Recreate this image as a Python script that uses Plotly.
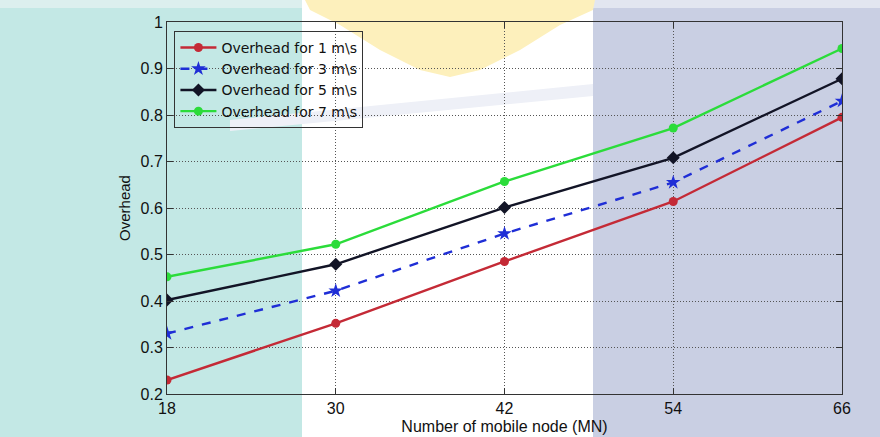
import plotly.graph_objects as go

nodes = [18, 30, 42, 54, 66]
overhead_1 = [0.230, 0.352, 0.485, 0.614, 0.795]
overhead_3 = [0.330, 0.422, 0.545, 0.655, 0.830]
overhead_5 = [0.402, 0.479, 0.601, 0.708, 0.878]
overhead_7 = [0.452, 0.522, 0.657, 0.772, 0.943]
names = ["Overhead for 1 m\\s", "Overhead for 3 m\\s", "Overhead for 5 m\\s", "Overhead for 7 m\\s"]
y_ticks = [0.2, 0.3, 0.4, 0.5, 0.6, 0.7, 0.8, 0.9, 1]
y_tick_text = ["0.2", "0.3", "0.4", "0.5", "0.6", "0.7", "0.8", "0.9", "1"]

W, H = 880, 437
L, R, T, B = 167, 38, 22, 43
pw, ph = W - L - R, H - T - B

def px(x):
    return (x - L) / pw

def py(y):
    return (H - B - y) / ph

fig = go.Figure()
styles = [
    dict(color="#c42a36", dash="solid", symbol="circle", size=9),
    dict(color="#1f2ed6", dash="dash", symbol="star", size=11),
    dict(color="#121426", dash="solid", symbol="diamond", size=10),
    dict(color="#2bdc3a", dash="solid", symbol="circle", size=9),
]
for ys, nm, st in zip([overhead_1, overhead_3, overhead_5, overhead_7], names, styles):
    fig.add_trace(go.Scatter(
        x=nodes, y=ys, name=nm, mode="lines+markers",
        line=dict(color=st["color"], width=2.4, dash=st["dash"]),
        marker=dict(color=st["color"], symbol=st["symbol"], size=st["size"]),
    ))

def rect(x0, x1, y0, y1, color):
    return dict(type="rect", xref="paper", yref="paper",
                x0=px(x0), x1=px(x1), y0=py(y1), y1=py(y0),
                fillcolor=color, line=dict(width=0), layer="below")

def poly(pts, color):
    path = "M" + "L".join(f"{px(a):.4f},{py(b):.4f}" for a, b in pts) + "Z"
    return dict(type="path", xref="paper", yref="paper", path=path,
                fillcolor=color, line=dict(width=0), layer="below")

yellow_pts = [(305, 0), (595, 0), (593, 10), (560, 25), (520, 50), (480, 70), (450, 77),
              (420, 70), (380, 50), (340, 25), (310, 10)]
band_pts = [(230, 120), (593, 84), (593, 96), (230, 131)]

shapes = [
    rect(0, 302, 8, H, "#c3e8e5"),
    rect(593, W, 8, H, "#c9cfe3"),
    rect(0, 302, 0, 8, "#dcefee"),
    rect(593, W, 0, 8, "#e2e6f0"),
    poly(band_pts, "#eef0f7"),
    poly(yellow_pts, "#fdf0bc"),
]

fig.update_layout(
    width=W, height=H,
    margin=dict(l=L, r=R, t=T, b=B),
    paper_bgcolor="#ffffff",
    plot_bgcolor="rgba(255,255,255,0)",
    shapes=shapes,
    font=dict(family="Liberation Sans, Arial, sans-serif", color="#111111", size=15),
    legend=dict(
        x=0.011, y=0.976, xanchor="left", yanchor="top",
        bgcolor="rgba(255,255,255,0)", bordercolor="#333333", borderwidth=1,
        font=dict(size=14, color="#111111", family="DejaVu Sans, Liberation Sans, sans-serif"),
        tracegroupgap=0, itemwidth=36,
    ),
    showlegend=True,
)
grid = dict(
    showline=True, mirror="ticks", linecolor="#333333", linewidth=1,
    ticks="inside", ticklen=6, tickcolor="#333333",
    showgrid=True, gridcolor="#555555", griddash="1px,2px", gridwidth=1,
    zeroline=False, tickfont=dict(size=16), automargin=False,
)
fig.update_xaxes(
    range=[18, 66], tickvals=nodes, ticktext=[str(n) for n in nodes],
    title=dict(text="Number of mobile node (MN)", font=dict(size=16), standoff=4),
    **grid,
)
fig.update_yaxes(
    range=[0.2, 1.0], tickvals=y_ticks, ticktext=y_tick_text,
    title=dict(text="Overhead", font=dict(size=15), standoff=6),
    **grid,
)
fig.write_html("out.html")
